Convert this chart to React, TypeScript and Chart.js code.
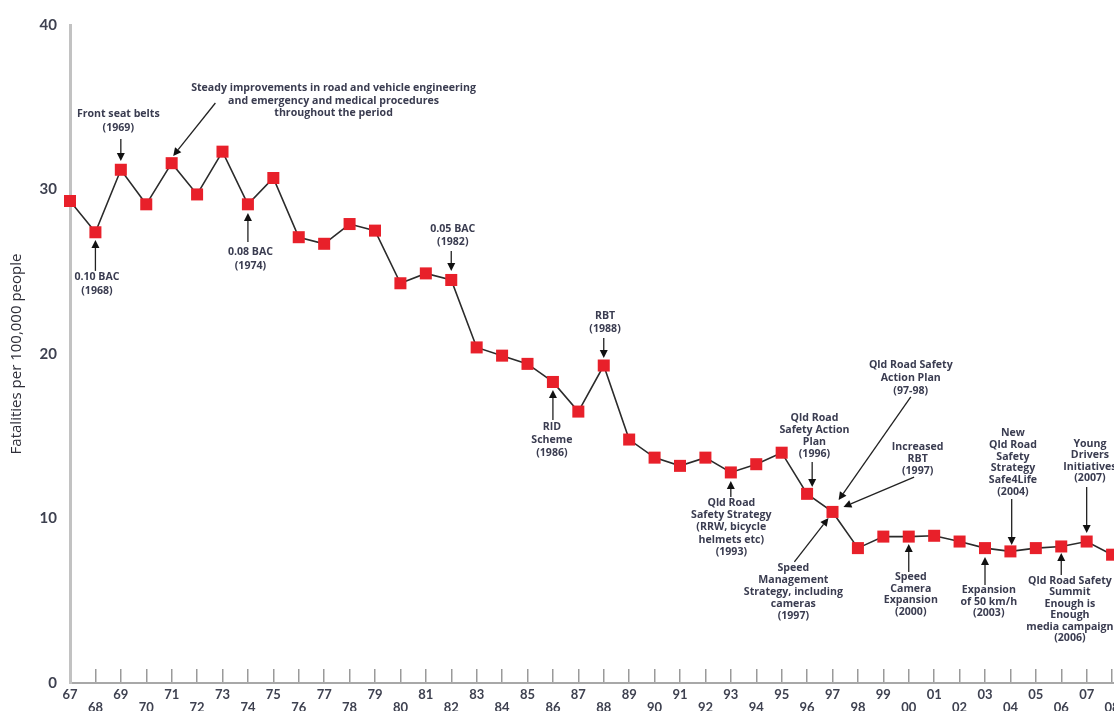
import React, { useEffect, useRef } from "react";
import { Chart, registerables } from "chart.js";

Chart.register(...registerables);

const years = [
  1967, 1968, 1969, 1970, 1971, 1972, 1973, 1974, 1975, 1976, 1977, 1978, 1979, 1980,
  1981, 1982, 1983, 1984, 1985, 1986, 1987, 1988, 1989, 1990, 1991, 1992, 1993, 1994,
  1995, 1996, 1997, 1998, 1999, 2000, 2001, 2002, 2003, 2004, 2005, 2006, 2007, 2008,
];

const xTickLabels = [
  "67", "68", "69", "70", "71", "72", "73", "74", "75", "76", "77", "78", "79", "80",
  "81", "82", "83", "84", "85", "86", "87", "88", "89", "90", "91", "92", "93", "94",
  "95", "96", "97", "98", "99", "00", "01", "02", "03", "04", "05", "06", "07", "08",
];

const fatalities = [
  29.3, 27.4, 31.2, 29.1, 31.6, 29.7, 32.3, 29.1, 30.7, 27.1, 26.7, 27.9, 27.5, 24.3,
  24.9, 24.5, 20.4, 19.9, 19.4, 18.3, 16.5, 19.3, 14.8, 13.7, 13.2, 13.7, 12.8, 13.3,
  14.0, 11.5, 10.4, 8.2, 8.9, 8.9, 8.95, 8.6, 8.2, 8.0, 8.2, 8.3, 8.6, 7.8,
];

const yTicks = [0, 10, 20, 30, 40];

const yTitle = "Fatalities per 100,000 people";

// Annotations, anchored in data coordinates (year, value)
type Ann = {
  lines: string[];
  tx: number;
  ty: number;
  lh: number;
  from: [number, number];
  to: [number, number];
};

const annotations: Ann[] = [
  { lines: ["Front seat belts", "(1969)"], tx: 1968.9, ty: 34.6, lh: 14, from: [1969, 33.07], to: [1969, 31.73] },
  { lines: ["0.10 BAC", "(1968)"], tx: 1968.06, ty: 24.68, lh: 14, from: [1968, 25.05], to: [1968, 26.93] },
  {
    lines: [
      "Steady improvements in road and vehicle engineering",
      "and emergency and medical procedures",
      "throughout the period",
    ],
    tx: 1977.37, ty: 36.17, lh: 12.5, from: [1972.72, 35.26], to: [1971.06, 32.04],
  },
  { lines: ["0.08 BAC", "(1974)"], tx: 1974.1, ty: 26.2, lh: 14, from: [1974, 26.81], to: [1974, 28.57] },
  { lines: ["0.05 BAC", "(1982)"], tx: 1982.06, ty: 27.6, lh: 13, from: [1982, 26.26], to: [1982, 25.05] },
  { lines: ["RBT", "(1988)"], tx: 1988.05, ty: 22.31, lh: 13, from: [1988, 20.97], to: [1988, 19.76] },
  { lines: ["RID", "Scheme", "(1986)"], tx: 1985.96, ty: 15.56, lh: 13, from: [1986, 15.99], to: [1986, 17.81] },
  {
    lines: ["Qld Road", "Safety Strategy", "(RRW, bicycle", "helmets etc)", "(1993)"],
    tx: 1993.02, ty: 10.94, lh: 12.2, from: [1993, 11.31], to: [1993, 12.28],
  },
  {
    lines: ["Qld Road", "Safety Action", "Plan", "(1996)"],
    tx: 1996.29, ty: 16.11, lh: 11.9, from: [1996.2, 13.43], to: [1996.2, 11.91],
  },
  {
    lines: ["Qld Road Safety", "Action Plan", "(97-98)"],
    tx: 2000.08, ty: 19.33, lh: 13, from: [2000.08, 17.39], to: [1997.24, 11.12],
  },
  {
    lines: ["Increased", "RBT", "(1997)"],
    tx: 2000.35, ty: 14.35, lh: 12, from: [2000.21, 12.52], to: [1997.43, 10.7],
  },
  {
    lines: ["Speed", "Management", "Strategy, including", "cameras", "(1997)"],
    tx: 1995.46, ty: 6.99, lh: 12, from: [1995.5, 7.36], to: [1996.84, 10.03],
  },
  {
    lines: ["Speed", "Camera", "Expansion", "(2000)"],
    tx: 2000.08, ty: 6.44, lh: 11.7, from: [2000, 6.75], to: [2000, 8.45],
  },
  {
    lines: ["Expansion", "of 50 km/h", "(2003)"],
    tx: 2003.15, ty: 5.65, lh: 11.7, from: [2003, 5.96], to: [2003, 7.66],
  },
  {
    lines: ["New", "Qld Road", "Safety", "Strategy", "Safe4Life", "(2004)"],
    tx: 2004.1, ty: 15.2, lh: 11.8, from: [2004.05, 11.19], to: [2004.05, 8.39],
  },
  {
    lines: ["Qld Road Safety", "Summit", "Enough is", "Enough", "media campaign", "(2006)"],
    tx: 2006.34, ty: 6.2, lh: 11.4, from: [2006, 6.57], to: [2006, 7.9],
  },
  {
    lines: ["Young", "Drivers", "Initiatives", "(2007)"],
    tx: 2007.13, ty: 14.53, lh: 11.4, from: [2007, 11.91], to: [2007, 9.12],
  },
];

const FONT = "Lato, 'Open Sans', sans-serif";
const ANN_FONT = "'Open Sans', Lato, sans-serif";

const annotationPlugin = {
  id: "roadAnnotations",
  afterDatasetsDraw(chart: any) {
    const ctx: CanvasRenderingContext2D = chart.ctx;
    const xs = chart.scales.x;
    const ys = chart.scales.y;
    ctx.save();
    ctx.font = `bold 10.6px ${ANN_FONT}`;
    ctx.textAlign = "center";
    ctx.textBaseline = "middle";
    for (const a of annotations) {
      const cx = xs.getPixelForValue(a.tx);
      const cy = ys.getPixelForValue(a.ty);
      ctx.fillStyle = "#3a3c50";
      a.lines.forEach((l, i) => ctx.fillText(l, cx, cy + i * a.lh));
      const x1 = xs.getPixelForValue(a.from[0]);
      const y1 = ys.getPixelForValue(a.from[1]);
      const x2 = xs.getPixelForValue(a.to[0]);
      const y2 = ys.getPixelForValue(a.to[1]);
      const ang = Math.atan2(y2 - y1, x2 - x1);
      const headLen = 8;
      const headHalf = 4;
      const bx = x2 - headLen * Math.cos(ang);
      const by = y2 - headLen * Math.sin(ang);
      ctx.strokeStyle = "#222";
      ctx.lineWidth = 1.3;
      ctx.beginPath();
      ctx.moveTo(x1, y1);
      ctx.lineTo(bx, by);
      ctx.stroke();
      ctx.fillStyle = "#111";
      ctx.beginPath();
      ctx.moveTo(x2, y2);
      ctx.lineTo(bx + headHalf * Math.sin(ang), by - headHalf * Math.cos(ang));
      ctx.lineTo(bx - headHalf * Math.sin(ang), by + headHalf * Math.cos(ang));
      ctx.closePath();
      ctx.fill();
    }
    ctx.restore();
  },
};

export default function App() {
  const ref = useRef<HTMLCanvasElement | null>(null);

  useEffect(() => {
    if (!ref.current) return;
    const chart = new Chart(ref.current, {
      type: "line",
      data: {
        datasets: [
          {
            label: "Fatalities",
            data: years.map((yr, i) => ({ x: yr, y: fatalities[i] })),
            borderColor: "#2b2b2b",
            borderWidth: 1.6,
            pointStyle: "rect",
            pointRadius: 8.5,
            pointHoverRadius: 8.5,
            pointBackgroundColor: "#e8202a",
            pointBorderColor: "#e8202a",
            pointBorderWidth: 0,
            tension: 0,
            clip: false as any,
          },
        ],
      },
      options: {
        responsive: false,
        animation: false,
        layout: { padding: { top: 25, left: 0, right: 0, bottom: 0 } },
        plugins: {
          legend: { display: false },
          tooltip: { enabled: false },
        },
        scales: {
          x: {
            type: "linear",
            min: 1967,
            max: 2009,
            afterFit(s: any) {
              s.paddingLeft = 0;
              s.paddingRight = 0;
              s.height = 28;
            },
            ticks: {
              stepSize: 1,
              autoSkip: false,
              maxRotation: 0,
              minRotation: 0,
              padding: 19,
              color: "#3e4150",
              font: { family: FONT, size: 13, weight: "bold", lineHeight: 1 },
              callback(v: any) {
                const idx = years.indexOf(Number(v));
                if (idx < 0) return "";
                const lbl = xTickLabels[idx];
                return idx % 2 === 0 ? lbl : ["", lbl];
              },
            },
            grid: {
              drawOnChartArea: false,
              drawTicks: true,
              tickLength: -14,
              color: "#9a9a9a",
              lineWidth: 1.5,
            },
            border: { display: true, color: "#a8a8a8", width: 2 },
          },
          y: {
            min: yTicks[0],
            max: yTicks[yTicks.length - 1],
            afterFit(s: any) {
              s.width = 70;
            },
            afterBuildTicks(s: any) {
              s.ticks = yTicks.map((v) => ({ value: v }));
            },
            ticks: {
              padding: 13,
              color: "#3e4150",
              font: { family: FONT, size: 15, weight: "bold" },
            },
            grid: { display: true, drawOnChartArea: false, drawTicks: false },
            border: { display: true, color: "#c2c2c2", width: 3 },
            title: {
              display: true,
              text: yTitle,
              color: "#2e2e38",
              font: { family: ANN_FONT, size: 15 },
              padding: { top: 8, bottom: 0 },
            },
          },
        },
      },
      plugins: [annotationPlugin],
    });
    return () => chart.destroy();
  }, []);

  return (
    <div
      style={{
        position: "fixed",
        left: 0,
        top: 0,
        width: 1114,
        height: 711,
        overflow: "hidden",
        background: "#fff",
      }}
    >
      <canvas ref={ref} width={1146} height={711} style={{ width: 1146, height: 711, display: "block" }} />
    </div>
  );
}
